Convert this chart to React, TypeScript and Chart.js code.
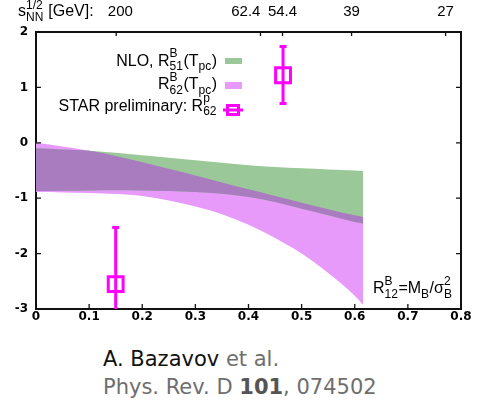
import React, { useEffect, useRef } from 'react';
import { Chart, registerables } from 'chart.js';

Chart.register(...registerables);

// ---- data ----
const xGrid = [0, 0.05, 0.1, 0.15, 0.2, 0.25, 0.3, 0.35, 0.4, 0.45, 0.5, 0.55, 0.6, 0.616];
// NLO R^B_51(T_pc) band (green)
const r51Upper = [-0.1, -0.12, -0.145, -0.18, -0.225, -0.27, -0.315, -0.36, -0.405, -0.435, -0.46, -0.48, -0.5, -0.51];
const r51Lower = [-0.87, -0.865, -0.86, -0.855, -0.86, -0.87, -0.89, -0.92, -0.98, -1.07, -1.19, -1.31, -1.43, -1.46];
// R^B_62(T_pc) band (pink)
const r62Upper = [0.0, -0.065, -0.145, -0.24, -0.35, -0.47, -0.59, -0.715, -0.84, -0.96, -1.08, -1.2, -1.31, -1.34];
const r62Lower = [-0.89, -0.895, -0.905, -0.925, -0.96, -1.04, -1.15, -1.29, -1.48, -1.72, -2.0, -2.35, -2.76, -2.93];
// STAR preliminary R^p_62
const starX = [0.15, 0.465];
const starY = [-2.55, 1.22];
const starErrLow = [-3.6, 0.71];
const starErrHigh = [-1.53, 1.74];
// top axis: sqrt(s_NN) [GeV]
const sqrtsPos = [0.151, 0.4225, 0.464, 0.594, 0.771];
const sqrtsLabels = ['200', '62.4', '54.4', '39', '27'];
// axis ranges
const xTicksMin = 0;
const xTicksMax = 0.8;
const yTicksMin = -3;
const yTicksMax = 2;

const GREEN = '#9bc898';
const PINK = '#e79afa';
const PURPLE = '#a97bbf';
const MAGENTA = '#ff00ff';
const FONT = '"Liberation Sans", Arial, sans-serif';
const TICKFONT = '"DejaVu Sans", Verdana, sans-serif';

type Seg = { t?: string; sup?: string; sub?: string };

function drawRich(
  ctx: CanvasRenderingContext2D,
  segs: Seg[],
  x: number,
  y: number,
  align: 'left' | 'right',
  size = 16,
  supOff = 0.52,
  subOff = 0.3
) {
  const main = `${size}px ${FONT}`;
  const small = `${Math.round(size * 0.72)}px ${FONT}`;
  const widths = segs.map((s) => {
    if (s.t !== undefined) {
      ctx.font = main;
      return ctx.measureText(s.t).width;
    }
    ctx.font = small;
    return Math.max(s.sup ? ctx.measureText(s.sup).width : 0, s.sub ? ctx.measureText(s.sub).width : 0) + 0.5;
  });
  const total = widths.reduce((a, b) => a + b, 0);
  let cx = align === 'right' ? x - total : x;
  ctx.textAlign = 'left';
  ctx.textBaseline = 'alphabetic';
  segs.forEach((s, i) => {
    if (s.t !== undefined) {
      ctx.font = main;
      ctx.fillText(s.t, cx, y);
    } else {
      ctx.font = small;
      if (s.sup) ctx.fillText(s.sup, cx, y - size * supOff);
      if (s.sub) ctx.fillText(s.sub, cx, y + size * subOff);
    }
    cx += widths[i];
  });
}

const overlayPlugin = {
  id: 'overlay',
  afterDatasetsDraw(chart: any) {
    const ctx: CanvasRenderingContext2D = chart.ctx;
    const { x, y } = chart.scales;
    const a = chart.chartArea;
    ctx.save();
    ctx.beginPath();
    ctx.rect(a.left, a.top, a.right - a.left, a.bottom - a.top);
    ctx.clip();
    ctx.strokeStyle = MAGENTA;
    ctx.lineWidth = 3;
    starX.forEach((v, i) => {
      const px = x.getPixelForValue(v);
      const top = y.getPixelForValue(starErrHigh[i]);
      const bot = y.getPixelForValue(starErrLow[i]);
      ctx.beginPath();
      ctx.moveTo(px, top);
      ctx.lineTo(px, bot);
      ctx.moveTo(px - 3.5, top);
      ctx.lineTo(px + 3.5, top);
      ctx.moveTo(px - 3.5, bot);
      ctx.lineTo(px + 3.5, bot);
      ctx.stroke();
    });
    ctx.restore();
  },
  afterDraw(chart: any) {
    const ctx: CanvasRenderingContext2D = chart.ctx;
    const { x, y, x2 } = chart.scales;
    const a = chart.chartArea;
    ctx.save();
    // inward ticks
    ctx.strokeStyle = '#111';
    ctx.lineWidth = 1.3;
    ctx.beginPath();
    x.ticks.forEach((t: any) => {
      const px = x.getPixelForValue(t.value);
      if (px <= a.left + 2 || px >= a.right - 2) return;
      ctx.moveTo(px, a.bottom);
      ctx.lineTo(px, a.bottom - 5);
    });
    y.ticks.forEach((t: any) => {
      const py = y.getPixelForValue(t.value);
      if (py <= a.top + 2 || py >= a.bottom - 2) return;
      ctx.moveTo(a.left, py);
      ctx.lineTo(a.left + 5, py);
      ctx.moveTo(a.right, py);
      ctx.lineTo(a.right - 5, py);
    });
    x2.ticks.forEach((t: any) => {
      const px = x2.getPixelForValue(t.value);
      ctx.moveTo(px, a.top);
      ctx.lineTo(px, a.top + 4);
    });
    ctx.stroke();

    // legend
    ctx.fillStyle = '#000';
    const rx = 217;
    drawRich(ctx, [{ t: 'NLO, R' }, { sup: 'B', sub: '51' }, { t: '(T' }, { sub: 'pc' }, { t: ')' }], rx, 65.5, 'right');
    drawRich(ctx, [{ t: 'R' }, { sup: 'B', sub: '62' }, { t: '(T' }, { sub: 'pc' }, { t: ')' }], rx, 89, 'right');
    drawRich(ctx, [{ t: 'STAR preliminary: R' }, { sup: 'p', sub: '62' }], rx, 110.5, 'right');
    ctx.fillStyle = GREEN;
    ctx.fillRect(225, 58, 17, 6);
    ctx.fillStyle = PINK;
    ctx.fillRect(225, 82, 17, 7);
    ctx.strokeStyle = MAGENTA;
    ctx.lineWidth = 3;
    ctx.strokeRect(227.5, 105.5, 11, 9);
    ctx.beginPath();
    ctx.moveTo(223, 110);
    ctx.lineTo(243, 110);
    ctx.stroke();

    // axis annotations
    ctx.fillStyle = '#000';
    drawRich(
      ctx,
      [{ t: 'R' }, { sup: 'B', sub: '12' }, { t: '=M' }, { sub: 'B' }, { t: '/\u03c3' }, { sup: '2', sub: 'B' }],
      373,
      293,
      'left'
    );
    drawRich(ctx, [{ t: 's' }, { sup: '1/2', sub: 'NN' }, { t: ' [GeV]:' }], 18, 16, 'left', 16, 0.45, 0.3);
    ctx.restore();
  },
};

export default function App() {
  const ref = useRef<HTMLCanvasElement | null>(null);

  useEffect(() => {
    if (!ref.current) return;
    const pts = (ys: number[]) => xGrid.map((xv, i) => ({ x: xv, y: ys[i] }));
    const overlapUpper = xGrid.map((_, i) => Math.min(r51Upper[i], r62Upper[i]));
    const overlapLower = xGrid.map((_, i) => Math.max(r51Lower[i], r62Lower[i]));
    const band = (ys: number[], color: string, fill: any) => ({
      data: pts(ys),
      borderWidth: 0,
      borderColor: 'rgba(0,0,0,0)',
      backgroundColor: color,
      pointRadius: 0,
      fill,
      cubicInterpolationMode: 'monotone' as const,
    });
    const topPad = ['  ', '', '', '', ''];
    const topPadEnd = ['', '       ', '', '', ''];
    const chart = new Chart(ref.current, {
      type: 'line',
      data: {
        datasets: [
          {
            data: starX.map((xv, i) => ({ x: xv, y: starY[i] })),
            showLine: false,
            pointStyle: 'rect',
            pointRadius: 10.5,
            pointBorderWidth: 3,
            pointBorderColor: MAGENTA,
            pointBackgroundColor: 'rgba(0,0,0,0)',
            borderColor: MAGENTA,
            backgroundColor: 'rgba(0,0,0,0)',
            fill: false,
          } as any,
          band(overlapUpper, PURPLE, '+1'),
          band(overlapLower, PURPLE, false),
          band(r51Upper, GREEN, '+1'),
          band(r51Lower, GREEN, false),
          band(r62Upper, PINK, '+1'),
          band(r62Lower, PINK, false),
        ],
      },
      options: {
        animation: false,
        responsive: false,
        devicePixelRatio: 1,
        layout: { padding: 0 },
        plugins: { legend: { display: false }, tooltip: { enabled: false } },
        scales: {
          x: {
            type: 'linear',
            position: 'bottom',
            min: xTicksMin,
            max: xTicksMax,
            ticks: {
              stepSize: 0.1,
              color: '#000',
              padding: 1,
              maxRotation: 0,
              font: { family: TICKFONT, size: 12, weight: 'bold' },
              callback: (v: any) => (Number(v) === 0 ? '0' : Number(v).toFixed(1)),
            },
            grid: { display: false, drawTicks: false },
            border: { display: true, color: '#111', width: 2 },
            afterFit: (s: any) => {
              s.height = 26;
            },
          },
          x2: {
            type: 'linear',
            position: 'top',
            min: xTicksMin,
            max: xTicksMax,
            afterBuildTicks: (s: any) => {
              s.ticks = sqrtsPos.map((v) => ({ value: v }));
            },
            ticks: {
              autoSkip: false,
              maxRotation: 0,
              color: '#000',
              padding: 11,
              font: { family: FONT, size: 15 },
              callback: (_v: any, i: number) => topPad[i] + sqrtsLabels[i] + topPadEnd[i],
            },
            grid: { display: false, drawTicks: false },
            border: { display: true, color: '#111', width: 2 },
            afterFit: (s: any) => {
              s.height = 32;
            },
          },
          y: {
            type: 'linear',
            position: 'left',
            min: yTicksMin,
            max: yTicksMax,
            ticks: {
              stepSize: 1,
              color: '#000',
              padding: 8,
              font: { family: TICKFONT, size: 12, weight: 'bold' },
            },
            grid: { display: false, drawTicks: false },
            border: { display: true, color: '#111', width: 2 },
            afterFit: (s: any) => {
              s.width = 36;
            },
          },
          y2: {
            type: 'linear',
            position: 'right',
            min: yTicksMin,
            max: yTicksMax,
            ticks: { display: false },
            grid: { display: false, drawTicks: false },
            border: { display: true, color: '#111', width: 2 },
            afterFit: (s: any) => {
              s.width = 16;
            },
          },
        },
      } as any,
      plugins: [overlayPlugin],
    });
    return () => chart.destroy();
  }, []);

  return (
    <div style={{ position: 'absolute', left: 0, top: 0, width: 477, height: 402, background: '#fff' }}>
      <canvas ref={ref} width={477} height={335} style={{ position: 'absolute', left: 0, top: 0 }} />
      <div
        style={{
          position: 'absolute',
          left: 103,
          top: 345,
          fontFamily: '"DejaVu Sans", Verdana, sans-serif',
          fontSize: 21,
          lineHeight: '28px',
          color: '#6e6e6e',
          whiteSpace: 'nowrap',
        }}
      >
        <div>
          <span style={{ color: '#111' }}>A. Bazavov</span> et al.
        </div>
        <div>
          Phys. Rev. D <b style={{ color: '#555' }}>101</b>, 074502
        </div>
      </div>
    </div>
  );
}
